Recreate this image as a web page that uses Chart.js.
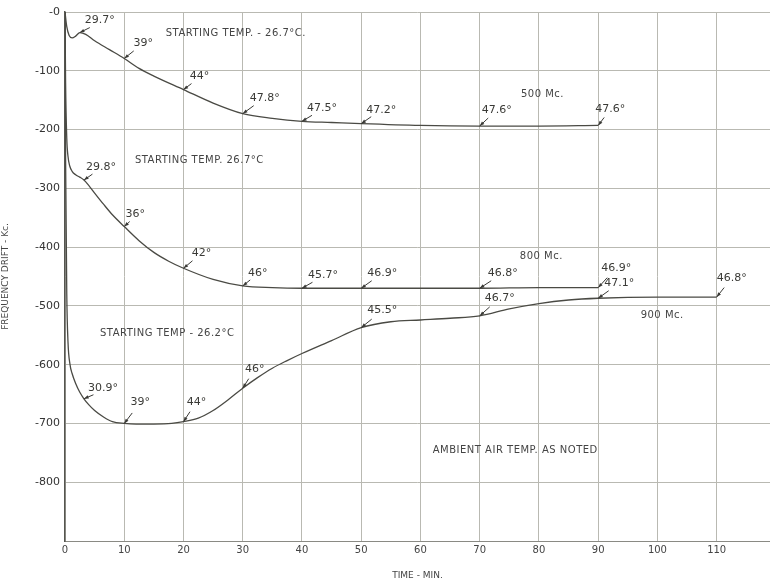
<!DOCTYPE html>
<html>
<head>
<meta charset="utf-8">
<script src="https://cdn.jsdelivr.net/npm/chart.js@4/dist/chart.umd.min.js"></script>
<style>
  html, body { margin: 0; padding: 0; background: #fff; }
  #wrap { width: 770px; height: 581px; }
</style>
</head>
<body>
<div id="wrap"><canvas id="drift"></canvas></div>
<script>
// frequency drift (Kc) vs time (min)
const time500 = [0, 0.3, 0.7, 1.2, 1.8, 2.5, 3.5, 5, 7.5, 10, 12.5, 15, 20, 25, 30, 35, 40, 45, 50, 60, 70, 80, 90];
const drift500 = [0, -25, -40, -44, -41, -35, -38, -49, -64, -79, -96, -109, -132, -155, -173, -181, -186, -188, -190, -193, -194, -194, -193];

const time800 = [0, 0.1, 0.3, 0.5, 0.8, 1.2, 1.8, 2.5, 3.2, 4, 5, 6.5, 8, 10, 12.5, 15, 17.5, 20, 25, 30, 35, 40, 50, 60, 70, 80, 90];
const drift800 = [0, -120, -215, -245, -262, -271, -277, -281, -286, -295, -308, -327, -345, -365, -389, -409, -424, -436, -455, -466, -469, -470, -470, -470, -470, -469, -469];

const time900 = [0, 0.1, 0.3, 0.5, 0.85, 1.2, 1.8, 2.5, 3.2, 4, 5, 6.5, 8, 10, 12, 15, 18, 20, 22.5, 25, 27.5, 30, 32.5, 35, 37.5, 40, 45, 50, 55, 60, 65, 70, 75, 80, 85, 90, 100, 110];
const drift900 = [0, -250, -480, -560, -600, -615, -632, -647, -658, -668, -678, -689, -697, -700, -701, -701, -700, -697, -691, -678, -660, -640, -622, -606, -593, -581, -559, -537, -527, -524, -521, -517, -505, -496, -490, -487, -485, -485];

const timeTicks = [0, 10, 20, 30, 40, 50, 60, 70, 80, 90, 100, 110];
const driftTicks = [0, -100, -200, -300, -400, -500, -600, -700, -800];

// ambient air temperature noted along each curve
const temps500 = ["29.7°", "39°", "44°", "47.8°", "47.5°", "47.2°", "47.6°", "47.6°"];
const at500 = [2.5, 10, 20, 30, 40, 50, 70, 90];
const temps800 = ["29.8°", "36°", "42°", "46°", "45.7°", "46.9°", "46.8°", "46.9°"];
const at800 = [3.2, 10, 20, 30, 40, 50, 70, 90];
const temps900 = ["30.9°", "39°", "44°", "46°", "45.5°", "46.7°", "47.1°", "46.8°"];
const at900 = [3.2, 10, 20, 30, 50, 70, 90, 110];

// label offsets in px from the point on the curve
const off500 = [[20, -12], [19, -15], [16, -13], [22, -16], [20, -13], [20, -14], [17, -16], [12, -16]];
const off800 = [[17, -13], [11, -12], [18, -15], [15, -13], [21, -13], [21, -15], [23, -15], [18, -20]];
const off900 = [[19, -11], [16, -21], [13, -20], [12, -19], [21, -17], [20, -18], [21, -15], [15, -19]];

const notes = [
  { text: "STARTING TEMP. - 26.7°C.", x: 17, y: -36, align: "left" },
  { text: "500 Mc.", x: 80.6, y: -141, align: "center" },
  { text: "STARTING TEMP. 26.7°C", x: 11.8, y: -252, align: "left" },
  { text: "800 Mc.", x: 80.4, y: -416, align: "center" },
  { text: "STARTING TEMP - 26.2°C", x: 5.9, y: -547, align: "left" },
  { text: "900 Mc.", x: 100.8, y: -516, align: "center" },
  { text: "AMBIENT AIR TEMP. AS NOTED", x: 76, y: -746, align: "center" }
];

function toPoints(xs, ys) {
  return xs.map((x, i) => ({ x: x, y: ys[i] }));
}

function yAt(xs, ys, x) {
  for (let i = 0; i < xs.length - 1; i++) {
    if (x >= xs[i] && x <= xs[i + 1]) {
      const f = (x - xs[i]) / (xs[i + 1] - xs[i]);
      return ys[i] + f * (ys[i + 1] - ys[i]);
    }
  }
  return ys[ys.length - 1];
}

const lineColor = "#4a4a44";

// temperature labels with little arrows, plus the free text
const labelPlugin = {
  id: "labels",
  afterDatasetsDraw(chart) {
    const ctx = chart.ctx;
    const xs = chart.scales.x;
    const ys = chart.scales.y;
    ctx.save();
    ctx.textBaseline = "middle";

    const groups = [
      [temps500, at500, off500, time500, drift500],
      [temps800, at800, off800, time800, drift800],
      [temps900, at900, off900, time900, drift900]
    ];
    ctx.font = "11px 'DejaVu Sans'";
    groups.forEach(([texts, ats, offs, tx, ty]) => {
      texts.forEach((txt, i) => {
        const px = xs.getPixelForValue(ats[i]);
        const py = ys.getPixelForValue(yAt(tx, ty, ats[i]));
        const dx = offs[i][0];
        const dy = offs[i][1];
        ctx.fillStyle = "#3a3a36";
        ctx.textAlign = "center";
        ctx.fillText(txt, px + dx, py + dy);
        // arrow from under the label to the curve
        const sx = px + dx * 0.5;
        const sy = py + Math.max(dy * 0.5, dy + 7);
        const ang = Math.atan2(py - sy, px - sx);
        ctx.strokeStyle = "#3a3a36";
        ctx.lineWidth = 1;
        ctx.beginPath();
        ctx.moveTo(sx, sy);
        ctx.lineTo(px, py);
        ctx.stroke();
        ctx.beginPath();
        ctx.moveTo(px, py);
        ctx.lineTo(px - 5 * Math.cos(ang - 0.35), py - 5 * Math.sin(ang - 0.35));
        ctx.lineTo(px - 5 * Math.cos(ang + 0.35), py - 5 * Math.sin(ang + 0.35));
        ctx.closePath();
        ctx.fill();
      });
    });

    ctx.font = "10px 'DejaVu Sans'";
    ctx.letterSpacing = "0.5px";
    ctx.fillStyle = "#444";
    notes.forEach((n) => {
      ctx.textAlign = n.align;
      ctx.fillText(n.text, xs.getPixelForValue(n.x), ys.getPixelForValue(n.y));
    });
    ctx.restore();
  }
};

const series = {
  borderColor: lineColor,
  borderWidth: 1.3,
  pointRadius: 0,
  showLine: true,
  fill: false,
  cubicInterpolationMode: "monotone"
};

new Chart(document.getElementById("drift"), {
  type: "scatter",
  data: {
    datasets: [
      Object.assign({ label: "500 Mc.", data: toPoints(time500, drift500) }, series),
      Object.assign({ label: "800 Mc.", data: toPoints(time800, drift800) }, series),
      Object.assign({ label: "900 Mc.", data: toPoints(time900, drift900) }, series)
    ]
  },
  options: {
    responsive: true,
    maintainAspectRatio: false,
    animation: false,
    layout: { padding: { top: 12, right: 0, left: 0, bottom: 0 } },
    plugins: {
      legend: { display: false },
      tooltip: { enabled: false }
    },
    scales: {
      x: {
        type: "linear",
        min: 0,
        max: 119,
        afterBuildTicks: (s) => { s.ticks = timeTicks.map((v) => ({ value: v })); },
        afterFit: (s) => { s.height = 40; },
        grid: { color: "#b9b9b2", lineWidth: 1, drawTicks: false },
        border: { color: "#8a8a84", width: 1 },
        ticks: {
          color: "#444",
          font: { family: "'DejaVu Sans'", size: 10 },
          padding: 3,
          maxRotation: 0
        },
        title: {
          display: true,
          text: "TIME - MIN.",
          color: "#444",
          font: { family: "'DejaVu Sans'", size: 9 },
          padding: { top: 8, bottom: 0 }
        }
      },
      y: {
        type: "linear",
        min: -900,
        max: 0,
        afterBuildTicks: (s) => { s.ticks = driftTicks.concat([-900]).map((v) => ({ value: v })); },
        afterFit: (s) => { s.width = 65; },
        grid: { color: "#b9b9b2", lineWidth: 1, drawTicks: false },
        border: { color: "#55554f", width: 1.5 },
        ticks: {
          color: "#333",
          font: { family: "'DejaVu Sans'", size: 11 },
          padding: 5,
          callback: (v) => (v === 0 ? "-0" : v === -900 ? "" : String(v))
        },
        title: {
          display: true,
          text: "FREQUENCY DRIFT - Kc.",
          color: "#444",
          font: { family: "'DejaVu Sans'", size: 9 },
          padding: { top: 0, bottom: 2 }
        }
      }
    }
  },
  plugins: [labelPlugin]
});
</script>
</body>
</html>
